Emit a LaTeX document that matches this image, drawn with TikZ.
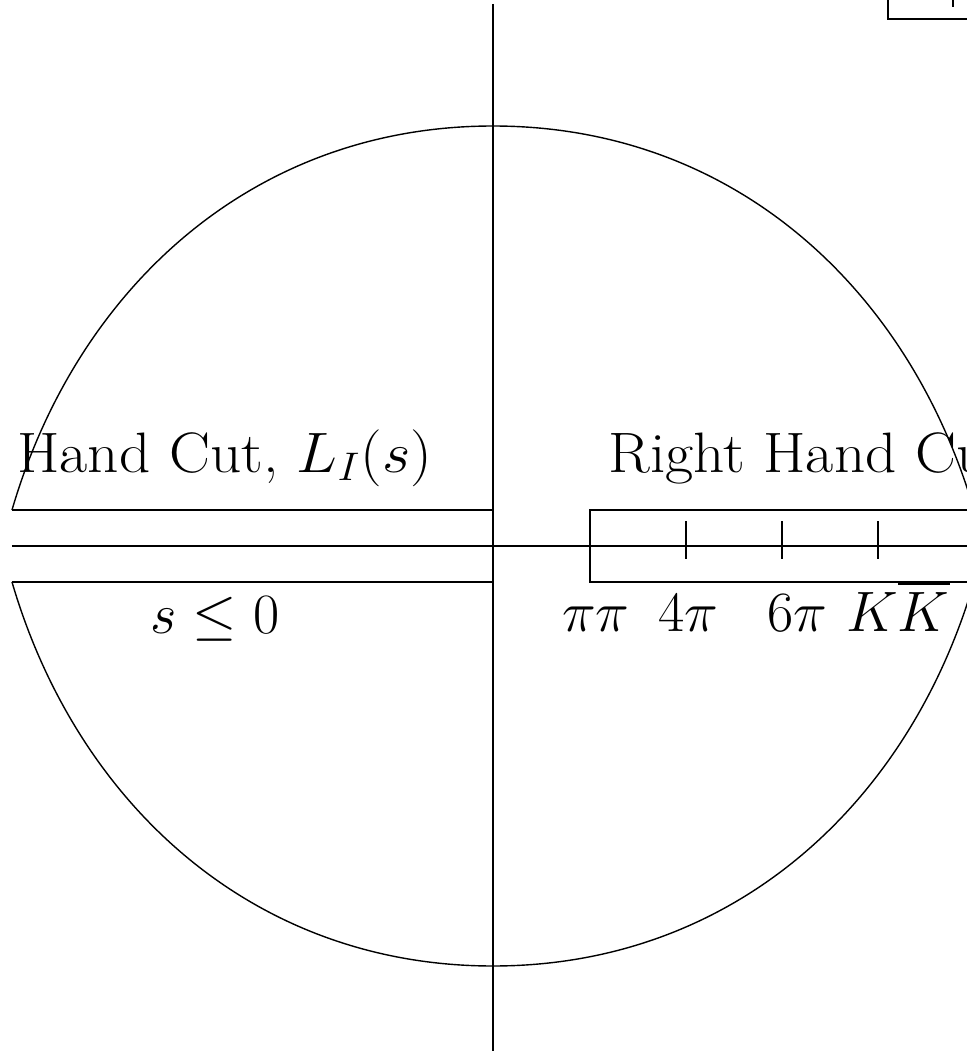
\RequirePackage{fix-cm}
\documentclass[tikz,border=0pt]{standalone}
\usepackage{amssymb}
\usepackage{amsmath}
\usepackage{graphicx}
\begin{document}
\begin{tikzpicture}[x=0.5pt,y=0.5pt]
    \tikzset{axis/.style = {draw,line width=1pt}}
    \tikzset{cut/.style = {draw,line width=1pt}}
    \tikzset{contour/.style = {draw,line width=0.7pt}}
    \tikzset{lbl/.style = {shape=rectangle,draw=none,inner sep=0pt,anchor=base,font=\fontsize{28.5}{34}\selectfont}}
    \newcommand{\wide}[1]{\scalebox{1.075}[1]{#1}}

    \useasboundingbox (-493,-505) rectangle (474,546);
    \clip (-493,-505) rectangle (474,546);

    % points
    \coordinate (o) at (0,0);
    \coordinate (n) at (0,542);
    \coordinate (s) at (0,-520);
    \coordinate (w) at (-481,0);
    \coordinate (e) at (490,0);

    \coordinate (lu) at (-481,36);
    \coordinate (lur) at (0,36);
    \coordinate (ld) at (-481,-36);
    \coordinate (ldr) at (0,-36);

    \coordinate (ru) at (490,36);
    \coordinate (rul) at (97,36);
    \coordinate (rdl) at (97,-36);
    \coordinate (rd) at (490,-36);

    \coordinate (top) at (0,420);
    \coordinate (bot) at (0,-420);
    \coordinate (ceu) at (481,36);
    \coordinate (ced) at (481,-36);

    \coordinate (bx) at (395,560);
    \coordinate (bxc) at (395,527);
    \coordinate (bxr) at (490,527);
    \coordinate (bt) at (460,560);
    \coordinate (btb) at (460,539);

    % labels
    \node[lbl,anchor=base west] (lh) at (-476,74) {\wide{Hand Cut, $L_I(s)$}};
    \node[lbl,anchor=base west] (rh) at (115,74) {\wide{Right Hand Cut}};
    \node[lbl] (sl) at (-278,-87) {$s\leq 0$};
    \node[lbl] (pp) at (103,-85) {$\pi\pi$};
    \node[lbl] (fp) at (195,-85) {$4\pi$};
    \node[lbl] (sp) at (304,-85) {$6\pi$};
    \node[lbl] (kk) at (405,-85) {$K\overline{K}$};

    % axes
    \draw[axis] (n) to (s);
    \draw[axis] (w) to (e);

    % cuts
    \draw[cut] (lu) to (lur);
    \draw[cut] (ld) to (ldr);
    \draw[cut] (ru) -- (rul) -- (rdl) -- (rd);
    \foreach \t [count=\i] in {193,289,385} {
        \coordinate (t\i) at (\t,25);
        \coordinate (b\i) at (\t,-12.5);
        \draw[cut] (t\i) to (b\i);
    }

    % contour
    \draw[contour] (lu) .. controls (-416,258) and (-240,420) .. (top)
        .. controls (240,420) and (416,258) .. (ceu);
    \draw[contour] (ld) .. controls (-416,-258) and (-240,-420) .. (bot)
        .. controls (240,-420) and (416,-258) .. (ced);

    % box top right
    \draw[cut] (bx) -- (bxc) -- (bxr);
    \draw[cut] (bt) to (btb);
\end{tikzpicture}
\end{document}
